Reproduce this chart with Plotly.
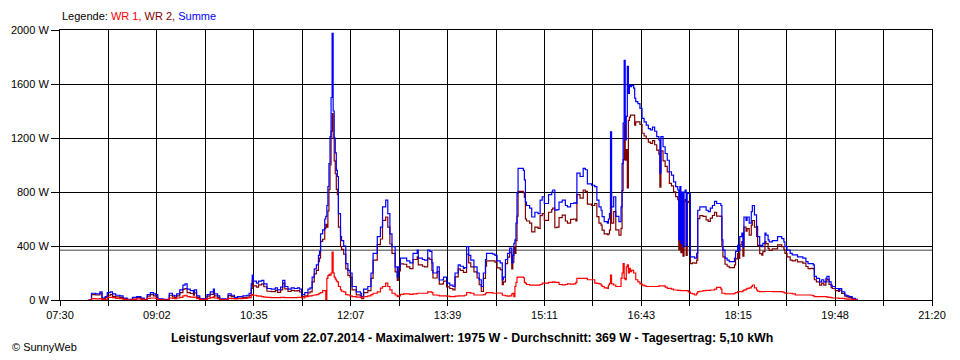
import plotly.graph_objects as go
from datetime import datetime, timedelta

datum = "2014-07-22"

zeit = [
    "07:57", "08:00", "08:04", "08:08", "08:10", "08:13", "08:15", "08:18", "08:20", "08:23",
    "08:27", "08:30", "08:34", "08:38", "08:39", "08:43", "08:47", "08:50", "08:53", "08:56",
    "08:59", "09:01", "09:03", "09:08", "09:13", "09:14", "09:17", "09:19", "09:21", "09:24",
    "09:27", "09:29", "09:31", "09:34", "09:37", "09:38", "09:40", "09:43", "09:48", "09:50",
    "09:53", "09:56", "09:57", "10:00", "10:02", "10:08", "10:10", "10:13", "10:16", "10:19",
    "10:24", "10:28", "10:30", "10:32", "10:33", "10:34", "10:37", "10:39", "10:42", "10:44",
    "10:47", "10:51", "10:55", "10:57", "11:00", "11:02", "11:04", "11:07", "11:10", "11:13",
    "11:16", "11:18", "11:20", "11:23", "11:26", "11:28", "11:30", "11:32", "11:34", "11:36",
    "11:37", "11:38", "11:40", "11:42", "11:43", "11:44", "11:45", "11:46", "11:47", "11:48",
    "11:49", "11:50", "11:51", "11:52", "11:53", "11:54", "11:55", "11:57", "11:58", "12:00",
    "12:02", "12:04", "12:06", "12:08", "12:12", "12:16", "12:17", "12:19", "12:23", "12:26",
    "12:28", "12:32", "12:35", "12:37", "12:40", "12:42", "12:44", "12:46", "12:49", "12:51",
    "12:52", "12:54", "12:57", "13:00", "13:03", "13:06", "13:10", "13:11", "13:15", "13:17",
    "13:20", "13:22", "13:24", "13:25", "13:29", "13:31", "13:34", "13:35", "13:38", "13:41",
    "13:44", "13:46", "13:49", "13:51", "13:54", "13:55", "13:57", "13:59", "14:01", "14:04",
    "14:07", "14:09", "14:11", "14:13", "14:15", "14:16", "14:19", "14:22", "14:24", "14:26",
    "14:29", "14:31", "14:32", "14:34", "14:36", "14:38", "14:40", "14:41", "14:42", "14:43",
    "14:44", "14:45", "14:46", "14:49", "14:51", "14:52", "14:53", "14:54", "14:57", "14:59",
    "15:02", "15:05", "15:07", "15:09", "15:11", "15:14", "15:15", "15:18", "15:19", "15:21",
    "15:23", "15:25", "15:28", "15:31", "15:33", "15:36", "15:39", "15:41", "15:42", "15:45",
    "15:48", "15:50", "15:52", "15:56", "15:59", "16:01", "16:03", "16:05", "16:06", "16:08",
    "16:11", "16:12", "16:13", "16:14", "16:15", "16:17", "16:19", "16:22", "16:24", "16:25",
    "16:26", "16:27", "16:28", "16:29", "16:30", "16:31", "16:32", "16:33", "16:34", "16:36",
    "16:37", "16:38", "16:40", "16:42", "16:44", "16:46", "16:48", "16:50", "16:52", "16:54",
    "16:56", "16:58", "17:00", "17:01", "17:02", "17:04", "17:06", "17:08", "17:10", "17:12",
    "17:14", "17:16", "17:18", "17:19", "17:20", "17:21", "17:22", "17:23", "17:24", "17:25",
    "17:26", "17:27", "17:28", "17:30", "17:32", "17:34", "17:36", "17:37", "17:39", "17:42",
    "17:45", "17:47", "17:49", "17:51", "17:53", "17:55", "17:57", "17:59", "18:00", "18:01",
    "18:03", "18:05", "18:07", "18:10", "18:12", "18:13", "18:15", "18:16", "18:17", "18:19",
    "18:20", "18:21", "18:23", "18:24", "18:26", "18:28", "18:29", "18:31", "18:33", "18:34",
    "18:36", "18:38", "18:39", "18:41", "18:42", "18:44", "18:45", "18:48", "18:51", "18:53",
    "18:56", "18:57", "18:59", "19:00", "19:02", "19:05", "19:07", "19:10", "19:12", "19:15",
    "19:17", "19:20", "19:22", "19:25", "19:27", "19:28", "19:30", "19:33", "19:35", "19:37",
    "19:39", "19:40", "19:42", "19:44", "19:45", "19:48", "19:51", "19:52", "19:54", "19:57",
    "19:59", "20:01", "20:04", "20:07", "20:09",
]

summe = [
    0, 50, 45, 60, 15, 25, 55, 60, 45, 35,
    30, 15, 5, 0, 20, 25, 15, 5, 40, 55,
    45, 40, 8, 5, 5, 50, 35, 30, 45, 75,
    110, 120, 80, 70, 55, 75, 30, 10, 10, 40,
    60, 80, 45, 30, 8, 5, 45, 35, 20, 25,
    30, 35, 50, 120, 185, 140, 125, 140, 145, 120,
    85, 80, 90, 75, 95, 145, 100, 80, 90, 85,
    90, 80, 40, 55, 80, 90, 170, 230, 260, 330,
    360, 490, 520, 600, 620, 700, 840, 1010, 1210, 1500,
    1975, 1400, 1200, 1090, 960, 915, 640, 470, 440, 400,
    270, 220, 200, 100, 60, 50, 25, 80, 100, 200,
    345, 470, 540, 690, 740, 640, 490, 395, 245, 170,
    245, 310, 310, 290, 275, 345, 370, 310, 300, 295,
    370, 360, 275, 200, 245, 148, 150, 170, 125, 110,
    100, 200, 260, 250, 235, 240, 395, 330, 295, 245,
    200, 150, 100, 200, 300, 345, 345, 340, 330, 290,
    275, 148, 170, 300, 345, 385, 275, 330, 420, 445,
    570, 790, 975, 975, 960, 890, 725, 700, 680, 615,
    650, 640, 740, 765, 715, 715, 780, 800, 815, 665,
    670, 725, 740, 700, 690, 715, 720, 715, 940, 915,
    975, 965, 860, 850, 840, 740, 690, 665, 617, 580,
    570, 600, 640, 1245, 690, 765, 620, 580, 690, 1010,
    1310, 1775, 1185, 1360, 1730, 1530, 1590, 1580, 1590, 1570,
    1495, 1470, 1455, 1420, 1345, 1320, 1295, 1270, 1260, 1280,
    1250, 1210, 1185, 940, 1210, 1135, 1085, 1035, 950, 925,
    875, 840, 815, 445, 840, 420, 800, 395, 800, 815,
    400, 790, 790, 320, 320, 310, 345, 665, 690, 690,
    665, 655, 680, 700, 730, 715, 715, 700, 445, 370,
    310, 295, 285, 285, 310, 360, 405, 370, 470, 495,
    395, 615, 590, 615, 570, 655, 700, 630, 545, 470,
    405, 395, 420, 495, 480, 445, 430, 440, 440, 470,
    470, 455, 430, 395, 370, 345, 335, 335, 320, 320,
    310, 285, 270, 270, 260, 175, 160, 135, 150, 135,
    160, 175, 135, 110, 100, 85, 75, 85, 60, 37,
    30, 25, 12, 5, 0,
]

wr1 = [
    0, 10, 8, 10, 5, 5, 20, 20, 18, 12,
    10, 5, 2, 0, 5, 8, 5, 2, 12, 15,
    15, 12, 3, 2, 2, 15, 12, 10, 15, 20,
    30, 35, 25, 22, 20, 22, 10, 5, 5, 12,
    18, 25, 15, 10, 3, 2, 12, 10, 8, 10,
    12, 15, 18, 35, 40, 35, 30, 28, 25, 22,
    20, 18, 18, 18, 20, 20, 18, 17, 18, 18,
    20, 20, 15, 25, 28, 30, 35, 37, 40, 45,
    50, 55, 70, 70, 0, 160, 180, 190, 185, 200,
    355, 200, 170, 155, 140, 135, 100, 75, 65, 60,
    40, 37, 30, 25, 22, 20, 15, 25, 30, 40,
    50, 60, 88, 100, 125, 100, 75, 50, 37, 25,
    30, 42, 45, 45, 42, 45, 50, 50, 50, 50,
    60, 60, 55, 37, 35, 30, 30, 30, 28, 25,
    25, 28, 30, 30, 30, 35, 55, 55, 50, 37,
    37, 37, 37, 40, 50, 55, 55, 50, 50, 52,
    50, 35, 35, 30, 28, 30, 45, 50, 25, 100,
    130, 168, 170, 170, 165, 130, 125, 115, 110, 110,
    110, 110, 115, 125, 125, 125, 130, 130, 135, 130,
    130, 115, 112, 115, 120, 118, 120, 130, 160, 160,
    160, 160, 150, 150, 125, 123, 120, 110, 100, 90,
    86, 111, 123, 185, 120, 111, 100, 100, 160, 200,
    270, 160, 150, 245, 260, 200, 235, 210, 220, 200,
    200, 150, 135, 120, 110, 105, 100, 100, 100, 100,
    100, 100, 105, 105, 105, 105, 95, 86, 86, 80,
    74, 74, 72, 72, 72, 70, 70, 70, 70, 70,
    70, 69, 60, 50, 45, 37, 50, 62, 65, 70,
    72, 72, 74, 74, 80, 94, 94, 80, 50, 50,
    45, 45, 45, 45, 50, 55, 62, 62, 62, 62,
    70, 75, 80, 86, 90, 100, 111, 90, 74, 65,
    62, 62, 62, 63, 63, 63, 63, 62, 62, 62,
    62, 60, 55, 50, 50, 50, 45, 37, 37, 37,
    37, 37, 37, 35, 30, 25, 25, 25, 25, 25,
    25, 22, 20, 17, 15, 15, 12, 12, 12, 8,
    7, 7, 5, 2, 0,
]

wr2 = [
    0, 40, 37, 50, 10, 20, 35, 40, 27, 23,
    20, 10, 3, 0, 15, 17, 10, 3, 28, 40,
    30, 28, 5, 3, 3, 35, 23, 20, 30, 55,
    80, 85, 55, 48, 35, 53, 20, 5, 5, 28,
    42, 55, 30, 20, 5, 3, 33, 25, 12, 15,
    18, 20, 32, 85, 145, 105, 95, 112, 120, 98,
    65, 62, 72, 57, 75, 125, 82, 63, 72, 67,
    70, 60, 25, 30, 52, 60, 135, 193, 220, 285,
    310, 435, 450, 530, 560, 540, 660, 820, 1000, 1250,
    1380, 1200, 1030, 935, 820, 780, 540, 395, 375, 340,
    230, 183, 170, 75, 38, 30, 10, 55, 70, 160,
    295, 410, 452, 590, 615, 540, 415, 345, 208, 145,
    215, 268, 265, 245, 233, 300, 320, 260, 250, 245,
    310, 300, 220, 163, 210, 118, 120, 140, 97, 85,
    75, 172, 230, 220, 205, 205, 340, 275, 245, 208,
    163, 113, 63, 160, 250, 290, 290, 290, 280, 238,
    225, 113, 135, 270, 317, 355, 230, 280, 395, 345,
    440, 622, 805, 805, 795, 760, 600, 585, 570, 505,
    540, 530, 625, 640, 590, 590, 650, 670, 680, 535,
    540, 610, 628, 585, 570, 597, 600, 585, 780, 755,
    815, 805, 710, 700, 715, 617, 570, 555, 517, 490,
    484, 489, 517, 800, 570, 654, 520, 480, 530, 810,
    1040, 1300, 1035, 1115, 830, 1330, 1355, 1370, 1370, 1370,
    1295, 1320, 1320, 1300, 1235, 1215, 1195, 1170, 1160, 1180,
    1150, 1110, 1080, 835, 1105, 1030, 990, 949, 864, 845,
    801, 766, 743, 373, 768, 350, 730, 325, 730, 745,
    330, 721, 730, 270, 275, 273, 295, 603, 625, 620,
    593, 583, 606, 626, 650, 621, 621, 620, 395, 320,
    265, 250, 240, 240, 260, 305, 343, 308, 408, 433,
    325, 540, 510, 529, 480, 555, 589, 540, 471, 405,
    343, 333, 358, 432, 417, 382, 367, 378, 378, 408,
    408, 395, 375, 345, 320, 295, 290, 298, 283, 283,
    273, 248, 233, 235, 230, 150, 135, 110, 125, 110,
    135, 153, 115, 93, 85, 70, 63, 73, 48, 29,
    23, 18, 7, 3, 0,
]

durchschnitt = 369
maximalwert = 1975
tagesertrag = "5,10"

x_tick_labels = ["07:30", "09:02", "10:35", "12:07", "13:39",
                 "15:11", "16:43", "18:15", "19:48", "21:20"]
y_tick_values = [0, 400, 800, 1200, 1600, 2000]
y_tick_labels = ["0 W", "400 W", "800 W", "1200 W", "1600 W", "2000 W"]

assert len(zeit) == len(summe) == len(wr1) == len(wr2)

x = [f"{datum} {t}" for t in zeit]

FONT = "Liberation Sans"
fig = go.Figure()

fig.add_trace(go.Scatter(x=x, y=wr2, mode="lines", name="WR 2",
                         line=dict(color="#800000", width=1.2, shape="hv"),
                         showlegend=False, hoverinfo="skip"))
fig.add_trace(go.Scatter(x=x, y=summe, mode="lines", name="Summe",
                         line=dict(color="#0000FF", width=1.2, shape="hv"),
                         showlegend=False, hoverinfo="skip"))
fig.add_trace(go.Scatter(x=x, y=wr1, mode="lines", name="WR 1",
                         line=dict(color="#FF0000", width=1.2, shape="hv"),
                         showlegend=False, hoverinfo="skip"))

start = datetime.strptime(f"{datum} {x_tick_labels[0]}", "%Y-%m-%d %H:%M")
end = datetime.strptime(f"{datum} {x_tick_labels[-1]}", "%Y-%m-%d %H:%M")
n_int = 2 * (len(x_tick_labels) - 1)
step = (end - start) / n_int
tickvals = [start + step * i for i in range(n_int + 1)]
ticktext = []
for i in range(n_int + 1):
    ticktext.append(x_tick_labels[i // 2] if i % 2 == 0 else "")

fig.add_shape(type="line", xref="paper", x0=0, x1=1, yref="y",
              y0=durchschnitt, y1=durchschnitt,
              line=dict(color="#808080", width=1.5), layer="below")

# The page body adds an 8 px offset; margins compensate so the plot area
# lands at x 60..932, y 30..300 in the 960x360 window.
fig.update_layout(
    width=952, height=352,
    margin=dict(l=52, r=28, t=22, b=60),
    paper_bgcolor="white", plot_bgcolor="white",
    font=dict(family=FONT, size=11, color="black"),
    xaxis=dict(
        type="date",
        range=[start, end],
        tickvals=tickvals, ticktext=ticktext,
        showgrid=True, gridcolor="black", gridwidth=1,
        ticks="outside", ticklen=5, tickcolor="black", tickwidth=1,
        showline=True, linecolor="black", linewidth=1, mirror=True,
        zeroline=False, automargin=False,
        tickfont=dict(family=FONT, size=11, color="black"),
    ),
    yaxis=dict(
        range=[0, 2000],
        tickvals=y_tick_values, ticktext=y_tick_labels,
        showgrid=True, gridcolor="black", gridwidth=1,
        ticks="outside", ticklen=8, tickcolor="black", tickwidth=1,
        showline=True, linecolor="black", linewidth=1, mirror=True,
        zeroline=False, automargin=False,
        tickfont=dict(family=FONT, size=11, color="black"),
    ),
)

fig.add_annotation(
    xref="paper", yref="paper", x=0, y=(300 - 16) / 270,
    xanchor="left", yanchor="middle", showarrow=False,
    text=("Legende: <span style='color:#FF0000'>WR 1, </span>"
          "<span style='color:#800000'>WR 2, </span>"
          "<span style='color:#0000FF'>Summe</span>"),
    font=dict(family=FONT, size=11, color="black"),
)
fig.add_annotation(
    xref="paper", yref="paper", x=(472 - 60) / 872, y=(300 - 338) / 270,
    xanchor="center", yanchor="middle", showarrow=False,
    text=(f"<b>Leistungsverlauf vom 22.07.2014 - Maximalwert: {maximalwert} W - "
          f"Durchschnitt: {durchschnitt} W - Tagesertrag: {tagesertrag} kWh</b>"),
    font=dict(family=FONT, size=12.4, color="black"),
)
fig.add_annotation(
    xref="paper", yref="paper", x=(10 - 60) / 872, y=(300 - 347) / 270,
    xanchor="left", yanchor="middle", showarrow=False,
    text="© SunnyWeb",
    font=dict(family=FONT, size=11, color="black"),
)

fig.write_html("out.html")
